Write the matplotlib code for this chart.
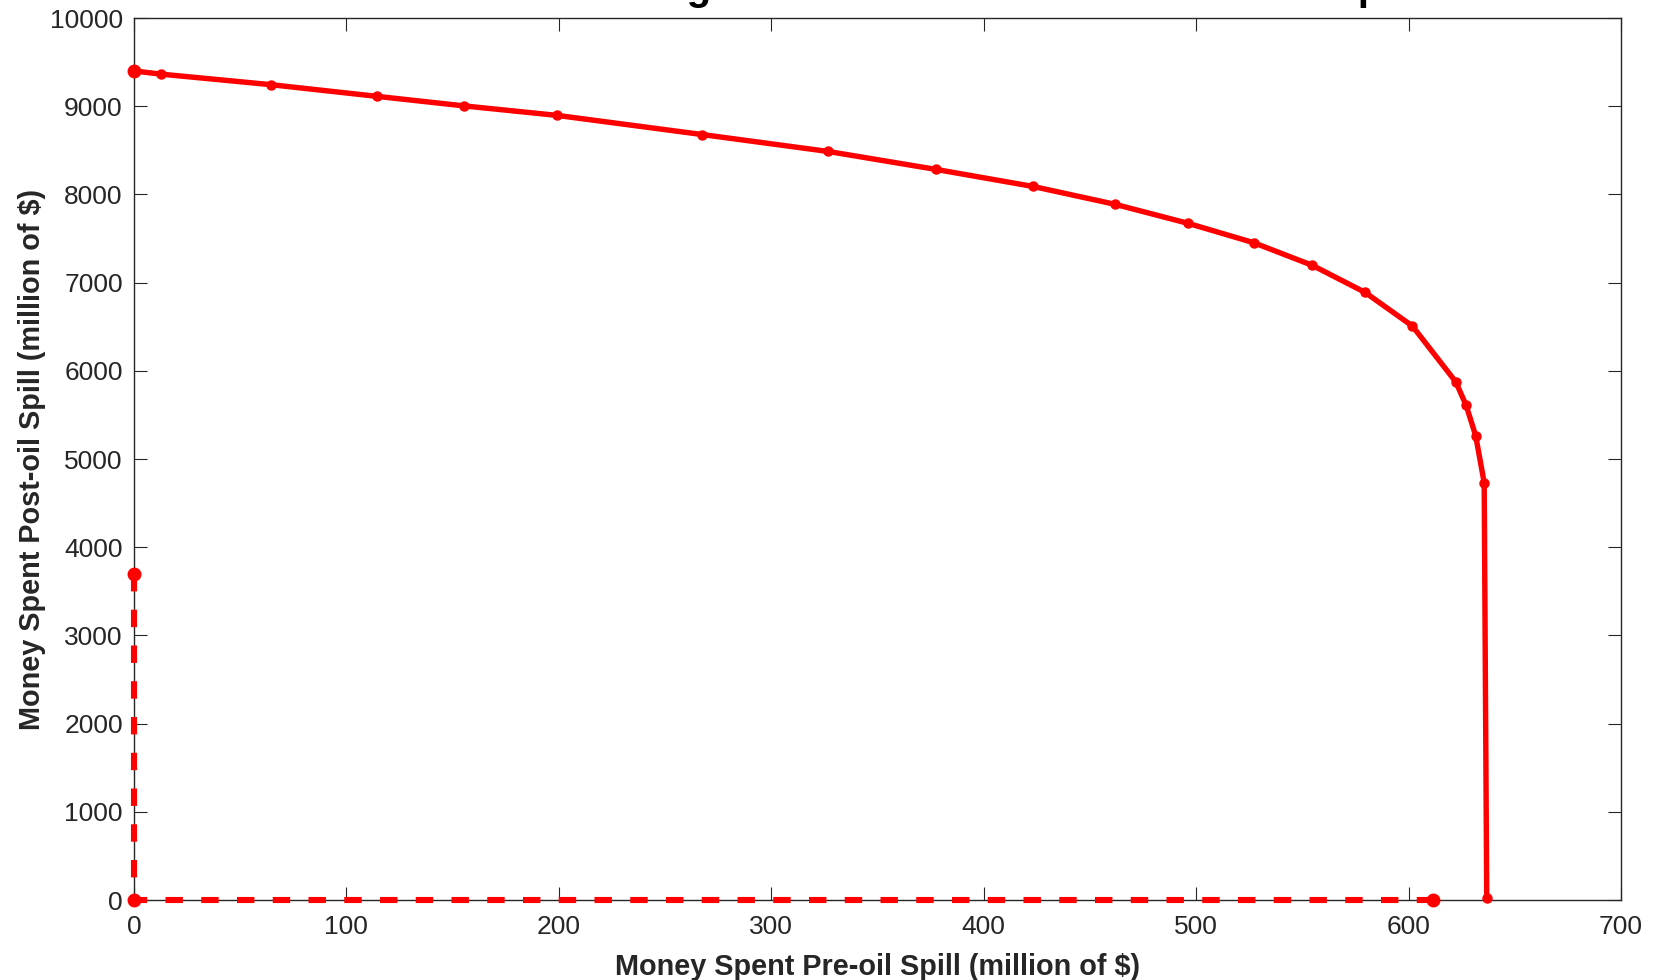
import matplotlib.pyplot as plt

plt.rcParams['font.family'] = ['Liberation Sans', 'DejaVu Sans']

# trade-off curve: pre-spill spending vs post-spill spending (million $)
pre_spill = [0, 12.7, 64.6, 114.4, 155.3, 199.2, 267.5, 326.8, 377.7, 423.1,
             462.0, 496.4, 527.2, 554.7, 579.5, 601.8, 622.2, 627.1, 631.6,
             635.6, 636.8]
post_spill = [9400, 9364, 9244, 9112, 9004, 8896, 8679, 8487, 8283, 8091,
              7887, 7671, 7452, 7196, 6890, 6508, 5876, 5609, 5264,
              4731, 19]

# corner cases: spend only after / only before the spill
only_x = [0, 0, 611.7]
only_y = [3700, 0, 0]

red = '#ff0000'
dark = '#262626'

fig = plt.figure(figsize=(16.6, 9.8), dpi=100)
ax = fig.add_axes([0.0807, 0.0816, 0.8958, 0.9000])

ax.plot(pre_spill, post_spill, '-', color=red, lw=3.9, marker='o', ms=6.5,
        zorder=3, clip_on=False)
ax.plot(pre_spill[0], post_spill[0], 'o', color=red, ms=9, zorder=4,
        clip_on=False)
ax.plot(only_x, only_y, color=red, lw=4.4, ls=(0, (2.85, 3.0)), zorder=3,
        clip_on=False)
ax.plot(only_x, only_y, 'o', color=red, ms=9, zorder=4, clip_on=False)

ax.set_xlim(0, 700)
ax.set_ylim(0, 10000)
ax.set_xticks(range(0, 701, 100))
ax.set_yticks(range(0, 10001, 1000))

ax.tick_params(direction='in', length=9.5, width=0.8, colors=dark,
               labelsize=19, pad=8, top=True, right=True)
ax.tick_params(axis='x', pad=11)
for s in ax.spines.values():
    s.set_linewidth(1.0)
    s.set_color(dark)

ax.set_xlabel('Money Spent Pre-oil Spill (million of $)', fontsize=20.8,
              fontweight='bold', color=dark, labelpad=10)
ax.set_ylabel('Money Spent Post-oil Spill (million of $)', fontsize=20.8,
              fontweight='bold', color=dark, labelpad=3)

# title sits mostly above the top edge of the canvas
fig.text(0.523, 1 - 0.5 / 980,
         'Minimum Cost Budget Trade-off Before and After Oil Spill',
         ha='center', va='baseline', fontsize=29, fontweight='bold',
         color='black')

fig.savefig('out.png', dpi=100)
